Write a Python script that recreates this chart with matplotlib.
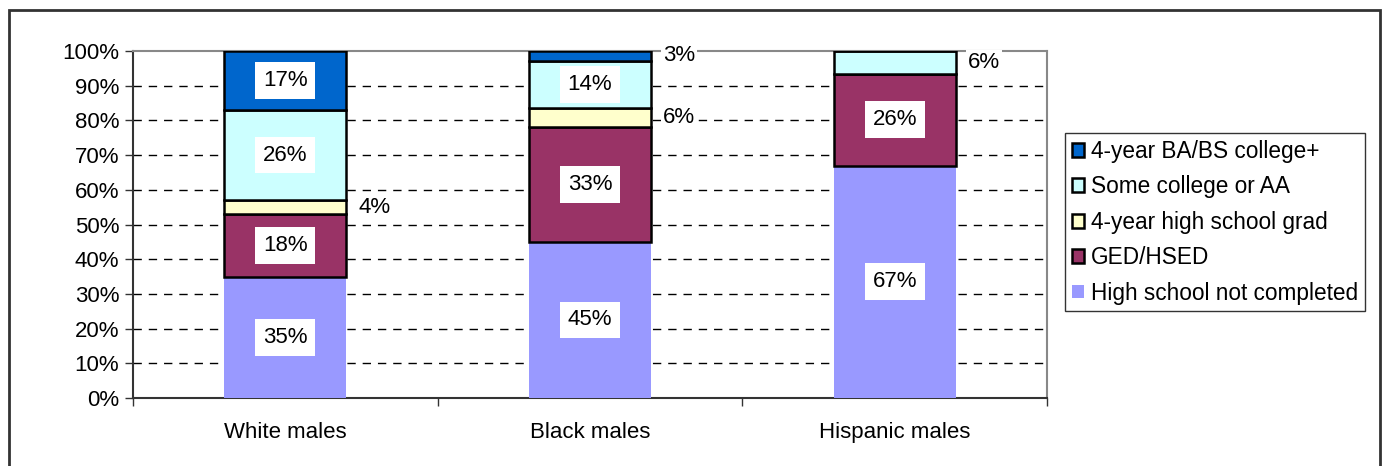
import matplotlib.pyplot as plt
from matplotlib.patches import Rectangle

plt.rcParams['font.family'] = ['Liberation Sans', 'DejaVu Sans']

groups = ['White males', 'Black males', 'Hispanic males']
not_completed = [35, 45, 67]
ged_hsed = [18, 33, 26.5]
hs_grad = [4, 5.5, 0]
some_college = [26, 13.7, 6.5]
ba_bs = [17, 2.8, 0]

series = [
    ('High school not completed', not_completed, '#9999FF'),
    ('GED/HSED', ged_hsed, '#993366'),
    ('4-year high school grad', hs_grad, '#FFFFCC'),
    ('Some college or AA', some_college, '#CCFFFF'),
    ('4-year BA/BS college+', ba_bs, '#0066CC'),
]

###############################################################################

fig = plt.figure(figsize=(13.84, 4.66), dpi=100)
fig.patches.append(Rectangle((9 / 1384, -0.05), (1380 - 9) / 1384, 1.05 - 10 / 466,
                             transform=fig.transFigure, fill=False,
                             edgecolor='#333333', linewidth=2))
ax = fig.add_axes([133 / 1384, 68 / 466, 914 / 1384, 347 / 466])

x = range(len(groups))
width = 0.4
bottoms = [0] * len(groups)
handles = []
for name, values, color in series:
    edge = 'none' if name == 'High school not completed' else 'black'
    bars = ax.bar(x, values, width, bottom=bottoms, color=color,
                  edgecolor=edge, linewidth=1.8, label=name, zorder=3)
    handles.append(bars)
    for i, val in enumerate(values):
        if val <= 0:
            continue
        mid = bottoms[i] + val / 2
        text = '{:.0f}%'.format(val)
        if val >= 10:
            ax.text(i, mid, text, ha='center', va='center', fontsize=16, zorder=5,
                    bbox=dict(boxstyle='square,pad=0.35', facecolor='white', edgecolor='none'))
        else:
            ax.text(i + width / 2 + 0.04, mid, text, ha='left', va='center',
                    fontsize=16, zorder=5,
                    bbox=dict(boxstyle='square,pad=0.1', facecolor='white', edgecolor='none'))
    bottoms = [b + v for b, v in zip(bottoms, values)]

ax.set_xlim(-0.5, 2.5)
ax.set_ylim(0, 100)
ax.set_yticks(range(0, 101, 10))
ax.set_yticklabels(['{}%'.format(v) for v in range(0, 101, 10)], fontsize=16)
ax.set_xticks(list(x))
ax.set_xticklabels(groups, fontsize=16)
ax.tick_params(axis='x', which='major', length=0, pad=17)
ax.set_xticks([-0.5, 0.5, 1.5, 2.5], minor=True)
ax.tick_params(axis='x', which='minor', length=6, width=1, color='#333333', direction='out')
ax.tick_params(axis='y', length=6, width=1, color='#333333', direction='out', pad=4)

for yv in range(10, 100, 10):
    ax.axhline(yv, color='black', linestyle=(0, (6, 5)), linewidth=1, zorder=1)

ax.spines['left'].set_color('#333333')
ax.spines['left'].set_linewidth(1.5)
ax.spines['bottom'].set_color('#333333')
ax.spines['bottom'].set_linewidth(1.5)
ax.spines['top'].set_color('#888888')
ax.spines['top'].set_linewidth(1.5)
ax.spines['right'].set_color('#888888')
ax.spines['right'].set_linewidth(1.5)

leg = fig.legend(handles[::-1], [s[0] for s in series][::-1],
                 loc='upper left', bbox_to_anchor=(1065 / 1384, 1 - 133 / 466),
                 fontsize=16.3, frameon=True, fancybox=False, edgecolor='black',
                 handlelength=0.55, handleheight=0.55, handletextpad=0.3,
                 labelspacing=0.55, borderpad=0.3, borderaxespad=0)
leg.get_frame().set_linewidth(1)

fig.savefig('out.png', dpi=100)
